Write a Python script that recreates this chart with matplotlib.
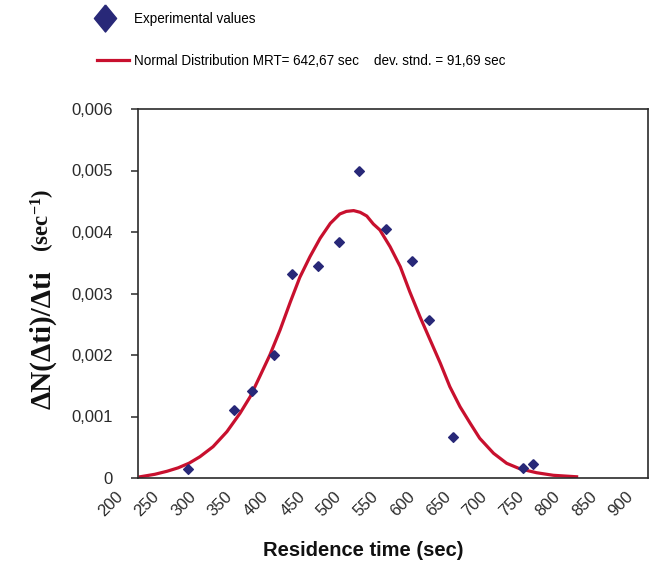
import matplotlib
matplotlib.use("Agg")
import numpy as np
import matplotlib.pyplot as plt
import matplotlib.transforms as mtransforms
from matplotlib import font_manager
from matplotlib.legend_handler import HandlerLine2D
from matplotlib.lines import Line2D
from matplotlib.ticker import FixedLocator, FuncFormatter

# experimental points (sec, 1/sec)
exp_time = [269, 332, 356, 386, 412, 447, 476, 504, 541, 576, 600, 633, 729, 742]
exp_value = [0.00015, 0.00110, 0.00142, 0.00200, 0.00332, 0.00345, 0.00384,
             0.00499, 0.00405, 0.00353, 0.00257, 0.00066, 0.00017, 0.00023]

# fitted normal curve
fit_time = [203, 223, 240, 255, 270, 285, 303, 322, 340, 354, 367, 381, 395,
            409, 422, 436, 450, 464, 477, 486, 496, 505, 514, 523, 532, 546,
            560, 573, 587, 601, 615, 628, 642, 656, 669, 688, 706, 724, 747,
            770, 802]
fit_value = [0.000020, 0.000060, 0.000110, 0.000165, 0.000240, 0.000346,
             0.000509, 0.000753, 0.001052, 0.001322, 0.001647, 0.002000,
             0.002407, 0.002860, 0.003260, 0.003598, 0.003898, 0.004141,
             0.004293, 0.004335, 0.004348, 0.004320, 0.004260, 0.004130,
             0.004033, 0.003761, 0.003436, 0.003029, 0.002623, 0.002244,
             0.001865, 0.001485, 0.001159, 0.000889, 0.000646, 0.000402,
             0.000239, 0.000150, 0.000086, 0.000044, 0.000020]

x_ticks = list(range(200, 901, 50))
y_ticks = [0, 0.001, 0.002, 0.003, 0.004, 0.005, 0.006]

label_exp = "Experimental values"
label_fit = "Normal Distribution MRT= 642,67 sec    dev. stnd. = 91,69 sec"

RED = "#C8102E"
NAVY = "#282878"
DIAMOND = [(0, 1), (1, 0), (0, -1), (-1, 0), (0, 1)]
DIAMOND_TALL = [(0, 1), (0.82, 0), (0, -1), (-0.82, 0), (0, 1)]

plt.rcParams["font.family"] = "Liberation Sans"
plt.rcParams["mathtext.fontset"] = "custom"
plt.rcParams["mathtext.rm"] = "Liberation Serif:bold"
plt.rcParams["mathtext.it"] = "Liberation Serif:bold"
plt.rcParams["mathtext.bf"] = "Liberation Serif:bold"

# the legend text is condensed; use the narrow face if it is there
installed = {f.name for f in font_manager.fontManager.ttflist}
if "Liberation Sans Narrow" in installed:
    legend_font = {"family": "Liberation Sans Narrow", "size": 11.5}
else:
    legend_font = {"family": "Liberation Sans", "size": 9.75}


class LeftMarker(HandlerLine2D):
    # legend diamond sits a bit left of the handle centre
    def create_artists(self, legend, orig_handle, xdescent, ydescent,
                       width, height, fontsize, trans):
        arts = super().create_artists(legend, orig_handle, xdescent, ydescent,
                                      width, height, fontsize, trans)
        for a in arts:
            a.set_xdata(np.asarray(a.get_xdata()) - 5.5)
        return arts


fig = plt.figure(figsize=(6.52, 5.67), dpi=100)
ax = fig.add_axes([138 / 652, 1 - 478 / 567, 510 / 652, 369 / 567])

ax.plot(fit_time, fit_value, color=RED, lw=2.3, solid_joinstyle="round",
        zorder=2)
ax.plot(exp_time, exp_value, ls="none", marker=DIAMOND, ms=7, color=NAVY,
        zorder=3)

ax.set_xlim(200, 900)
ax.set_ylim(0, 0.006)

for s in ax.spines.values():
    s.set_color("#2a2a2a")
    s.set_linewidth(1.2)

ax.yaxis.set_major_locator(FixedLocator(y_ticks))
ax.yaxis.set_major_formatter(FuncFormatter(
    lambda v, p: "0" if v == 0 else f"{v:.3f}".replace(".", ",")))
ax.tick_params(axis="y", direction="out", length=5, width=1.1, pad=13,
               labelsize=12, colors="#2a2a2a")

ax.xaxis.set_major_locator(FixedLocator(x_ticks))
ax.tick_params(axis="x", length=0, pad=8, labelsize=12, colors="#2a2a2a")
shift = mtransforms.ScaledTranslation(-12 / 100, 0, fig.dpi_scale_trans)
for t in ax.get_xticklabels():
    t.set_rotation(45)
    t.set_ha("right")
    t.set_va("top")
    t.set_transform(t.get_transform() + shift)

fig.text(363 / 652, 1 - 550 / 567, "Residence time (sec)", ha="center",
         va="center", fontsize=14.5, fontweight="bold", color="#111111")

# y label in two pieces so the unit can be a little smaller
fig.text(50 / 652, 1 - 340 / 567, "ΔN(Δti)/Δti", rotation=90,
         rotation_mode="anchor", ha="center", va="baseline", fontsize=21,
         fontweight="bold", fontfamily="Liberation Serif", color="#111111")
fig.text(50 / 652, 1 - 220 / 567, r"(sec$^{-1}$)", rotation=90,
         rotation_mode="anchor", ha="center", va="baseline", fontsize=16.5,
         fontweight="bold", fontfamily="Liberation Serif", color="#111111")

handles = [
    Line2D([], [], ls="none", marker=DIAMOND_TALL, ms=19.5, color=NAVY),
    Line2D([], [], color=RED, lw=2.3),
]
fig.legend(handles, [label_exp, label_fit], loc="upper left",
           bbox_to_anchor=(97 / 652, 1 - 12 / 567), frameon=False,
           prop=legend_font, handlelength=2.35, handletextpad=0.38,
           labelspacing=2.05, borderpad=0, borderaxespad=0,
           handler_map={handles[0]: LeftMarker(numpoints=1)})

fig.savefig("out.png", dpi=100)
